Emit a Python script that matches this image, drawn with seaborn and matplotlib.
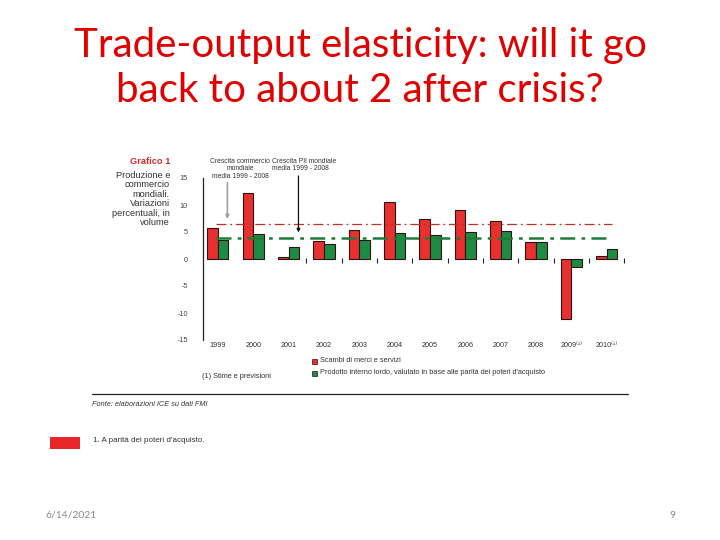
import numpy as np
import pandas as pd
import matplotlib
matplotlib.use("Agg")
import matplotlib.pyplot as plt
import seaborn as sns

years = ["1999", "2000", "2001", "2002", "2003", "2004", "2005", "2006",
         "2007", "2008", "2009\u207d\u00b9\u207e", "2010\u207d\u00b9\u207e"]
trade = [5.8, 12.2, 0.3, 3.4, 5.3, 10.6, 7.5, 9.1, 7.1, 3.2, -11.1, 0.6]
gdp = [3.5, 4.6, 2.2, 2.8, 3.5, 4.9, 4.4, 5.0, 5.1, 3.1, -1.4, 1.8]
series_names = ["Scambi di merci e servizi",
                "Prodotto interno lordo, valutato in base alle parità dei poteri d'acquisto"]
trade_avg = 6.5
gdp_avg = 3.8
yticks = [15, 10, 5, 0, -5, -10, -15]

RED = "#E8302E"
GREEN = "#1E8B45"
TITLE_RED = "#E00000"

sns.set_style("white")
plt.rcParams['font.family'] = ['Liberation Sans', 'DejaVu Sans']

df = pd.DataFrame({
    "year": years * 2,
    "value": trade + gdp,
    "series": [series_names[0]] * len(years) + [series_names[1]] * len(years),
})

fig = plt.figure(figsize=(7.2, 5.4), dpi=100)
ax = fig.add_axes([203 / 720, 1 - 340 / 540, 425 / 720, 162 / 540])

sns.barplot(data=df, x="year", y="value", hue="series", order=years,
            hue_order=series_names, palette=[RED, GREEN], width=0.6,
            saturation=1, edgecolor="#2a1414", linewidth=0.8, ax=ax,
            legend=False)

ax.set_xlim(-0.42, len(years) - 0.4)
ax.set_ylim(-15, 15)
ax.set_yticks(yticks)
ax.set_yticklabels([str(v) for v in yticks], fontsize=5.2, color="#444444")
ax.tick_params(axis="y", length=3, width=0.8, pad=8, color="#222222")
ax.set_xticks(range(len(years)))
ax.set_xticklabels(years, fontsize=5.2, color="#333333")
ax.tick_params(axis="x", length=0, pad=1.5)
ax.set_xlabel("")
ax.set_ylabel("")
for s in ["top", "right", "bottom"]:
    ax.spines[s].set_visible(False)
ax.spines["left"].set_color("#222222")
ax.spines["left"].set_linewidth(0.9)

# reference average lines
ax.plot([-0.05, 11.15], [trade_avg, trade_avg], color="#C0302A", lw=0.9,
        dashes=(8, 3, 1.5, 3))
ax.plot([-0.05, 11.15], [gdp_avg, gdp_avg], color="#1E7B3C", lw=1.8,
        dashes=(6, 2.5, 1.5, 2.5))

# small separator ticks on zero line
sep = np.arange(2.5, len(years), 1.0)
ax.vlines(sep, -0.7, 0.2, color="#222222", lw=0.8)

# annotations
ax.annotate("", xy=(0.27, 6.9), xytext=(0.27, 14.6),
            arrowprops=dict(arrowstyle="-|>", color="#A0A0A0", lw=1.2,
                            mutation_scale=5), annotation_clip=False)
ax.annotate("", xy=(2.28, 4.4), xytext=(2.28, 15.9),
            arrowprops=dict(arrowstyle="-|>", color="#111111", lw=0.9,
                            mutation_scale=5), annotation_clip=False)
fig.text(240 / 720, 1 - 169 / 540, "Crescita commercio\nmondiale\nmedia 1999 - 2008",
         fontsize=4.9, ha="center", va="center", color="#333333", linespacing=1.15)
fig.text(272 / 720, 1 - 165 / 540, "Crescita PIl mondiale\nmedia 1999 - 2008",
         fontsize=4.9, ha="left", va="center", color="#333333", linespacing=1.15)

# left caption block
fig.text(170 / 720, 1 - 162 / 540, "Grafico 1", fontsize=6.7, fontweight="bold",
         color="#D42A2A", ha="right", va="center")
fig.text(170 / 720, 1 - 199 / 540,
         "Produzione e\ncommercio\nmondiali.\nVariazioni\npercentuali, in\nvolume",
         fontsize=6.7, color="#333333", ha="right", va="center", linespacing=1.08)

# legend
for i, (name, col) in enumerate(zip(series_names, [RED, GREEN])):
    yy = 1 - (361 + 12 * i) / 540
    fig.patches.append(plt.Rectangle((312 / 720, yy - 2.5 / 540), 5 / 720, 5 / 540,
                                     transform=fig.transFigure, facecolor=col,
                                     edgecolor="#2a1414", lw=0.5))
    fig.text(320 / 720, yy, name, fontsize=5.35, color="#333333", va="center")
fig.text(202 / 720, 1 - 377 / 540, "(1) Stime e previsioni", fontsize=5.3,
         color="#333333", va="center")

# source line
fig.add_artist(plt.Line2D([92 / 720, 628 / 720], [1 - 394 / 540, 1 - 394 / 540],
                          color="#222222", lw=0.9))
fig.text(92 / 720, 1 - 404 / 540, "Fonte: elaborazioni ICE su dati FMI", fontsize=5.3,
         style="italic", color="#333333", va="center")
fig.patches.append(plt.Rectangle((50 / 720, 1 - 449 / 540), 30 / 720, 12 / 540,
                                 transform=fig.transFigure, facecolor="#E8262A",
                                 edgecolor="none"))
fig.text(93 / 720, 1 - 440 / 540, "1. A parità dei poteri d'acquisto.", fontsize=5.75,
         color="#333333", va="center")

# slide title
fig.text(360 / 720, 1 - 68 / 540,
         "Trade-output elasticity: will it go\nback to about 2 after crisis?",
         fontsize=29, color=TITLE_RED, ha="center", va="center",
         family=["Lato", "DejaVu Sans"], linespacing=1.3)

# footer
fig.text(45 / 720, 1 - 515 / 540, "6/14/2021", fontsize=7.5, color="#8A8A8A",
         va="center", family=["Lato", "DejaVu Sans"])
fig.text(673 / 720, 1 - 515 / 540, "9", fontsize=7.5, color="#8A8A8A",
         va="center", ha="center", family=["Lato", "DejaVu Sans"])

fig.savefig("out.png", dpi=100)
